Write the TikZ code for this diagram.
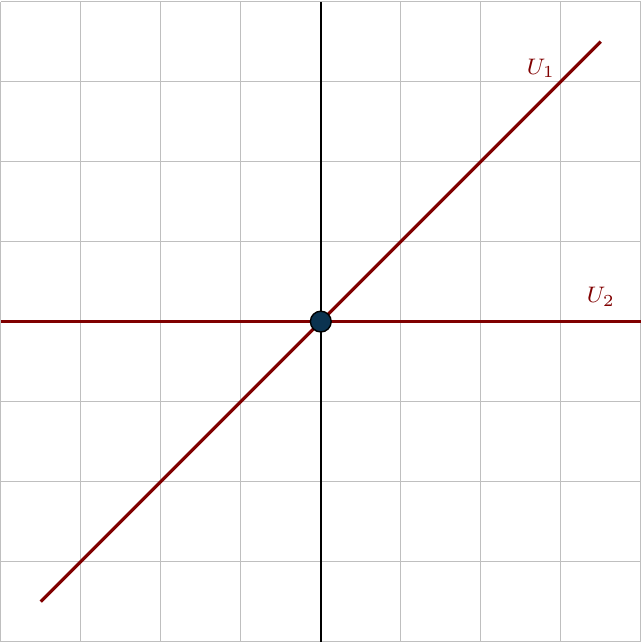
\documentclass[tikz,border=0pt]{standalone}
\usepackage{tikz}
\usetikzlibrary{arrows.meta,positioning}
\definecolor{linered}{HTML}{800000}
\definecolor{dotblue}{HTML}{0B3350}

\begin{document}
\begin{tikzpicture}[
  gridline/.style={gray!50, line width=0.4pt},
  subspace/.style={linered, line width=1.1pt},
  lab/.style={text=linered, font=\footnotesize},
  origin/.style={circle, draw=black, fill=dotblue, minimum size=0.26cm, inner sep=0pt, line width=0.5pt}
]
\useasboundingbox (-4.01,-4.01) rectangle (4.04,4.02);

\draw[gridline] (-4,-4) grid (4,4);
\draw[black, line width=0.8pt] (0,-4) -- (0,4);

\coordinate (u1a) at (-3.5,-3.5);
\coordinate (u1b) at (3.5,3.5);
\coordinate (u2a) at (-4,0);
\coordinate (u2b) at (4,0);

\draw[subspace] (u1a) -- (u1b);
\draw[subspace] (u2a) -- (u2b);

\node[origin] (o) at (0,0) {};
\node[lab] (l1) at (2.75,3.17) {$U_1$};
\node[lab] (l2) at (3.5,0.31) {$U_2$};

\end{tikzpicture}
\end{document}
